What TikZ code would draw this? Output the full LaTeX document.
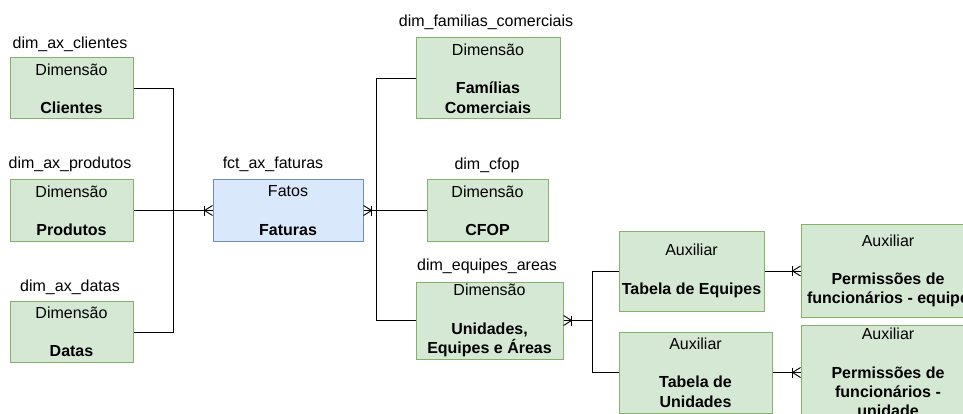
\documentclass[tikz,border=0pt]{standalone}
\usepackage{fontspec}
\setmainfont{Liberation Sans}
\definecolor{dimfill}{HTML}{D5E8D4}
\definecolor{dimline}{HTML}{82B366}
\definecolor{factfill}{HTML}{DAE8FC}
\definecolor{factline}{HTML}{6C8EBF}
\begin{document}
\begin{tikzpicture}[x=1pt,y=-1pt,
  every node/.style={font=\fontsize{16}{19.2}\selectfont},
  entity/.style={draw, line width=1pt, align=center, inner sep=0pt},
  dimbox/.style={entity, fill=dimfill, draw=dimline},
  factbox/.style={entity, fill=factfill, draw=factline},
  tablename/.style={inner sep=0pt},
  link/.style={draw=black, line width=0.9pt},
  crow/.pic={
    \draw[line width=0.9pt] (0,-5) -- (-8,0) -- (0,5);
    \draw[line width=0.9pt] (-8,-5) -- (-8,5);
  }]
\useasboundingbox (0,0) rectangle (963,414);
\clip (0,0) rectangle (963,414);

% dimension tables on the left
\node[dimbox, minimum width=123pt, minimum height=61pt] (cli) at (71.5,88.5)
  {Dimensão\\[19.2pt]\textbf{Clientes}};
\node[dimbox, minimum width=123pt, minimum height=61pt] (pro) at (71.5,210.5)
  {Dimensão\\[19.2pt]\textbf{Produtos}};
\node[dimbox, minimum width=123pt, minimum height=61pt] (dat) at (71.5,332)
  {Dimensão\\[19.2pt]\textbf{Datas}};

% fact table
\node[factbox, minimum width=150pt, minimum height=61pt] (fat) at (288,210.5)
  {Fatos\\[19.2pt]\textbf{Faturas}};

% dimension tables on the right
\node[dimbox, minimum width=144pt, minimum height=81pt] (fam) at (488,78.5)
  {Dimensão\\[19.2pt]\textbf{Famílias}\\\textbf{Comerciais}};
\node[dimbox, minimum width=121pt, minimum height=61pt] (cfop) at (487.5,210.5)
  {Dimensão\\[19.2pt]\textbf{CFOP}};
\node[dimbox, minimum width=147pt, minimum height=77pt] (eqa) at (489.5,320.5)
  {Dimensão\\[19.2pt]\textbf{Unidades,}\\\textbf{Equipes e Áreas}};

% auxiliary tables
\node[dimbox, minimum width=145pt, minimum height=80pt] (teq) at (691.5,271)
  {Auxiliar\\[19.2pt]\textbf{Tabela de Equipes}};
\node[dimbox, minimum width=153pt, minimum height=81pt] (tun) at (695.5,372.5)
  {Auxiliar\\[19.2pt]\textbf{Tabela de}\\\textbf{Unidades}};
\node[dimbox, minimum width=174pt, minimum height=93pt] (peq) at (888,271)
  {Auxiliar\\[19.2pt]\textbf{Permissões de}\\\textbf{funcionários - equipe}};
\node[dimbox, minimum width=174pt, minimum height=95pt] (pun) at (888,372.5)
  {Auxiliar\\[19.2pt]\textbf{Permissões de}\\\textbf{funcionários -}\\\textbf{unidade}};

% table names
\node[tablename] (ncli) at (70,44) {dim\_ax\_clientes};
\node[tablename] (npro) at (70,164) {dim\_ax\_produtos};
\node[tablename] (ndat) at (70,287) {dim\_ax\_datas};
\node[tablename] (nfat) at (273,164) {fct\_ax\_faturas};
\node[tablename] (nfam) at (486,22) {dim\_familias\_comerciais};
\node[tablename] (ncfop) at (487,165) {dim\_cfop};
\node[tablename] (neqa) at (487,266) {dim\_equipes\_areas};

% relationships
\draw[link] (cli.east) -- ++(40,0) |- (fat.west);
\draw[link] (pro.east) -- (fat.west);
\draw[link] (dat.east) -- ++(40,0) |- (fat.west);
\draw[link] (fat.east) -- ++(13,0) |- (fam.west);
\draw[link] (fat.east) -- (cfop.west);
\draw[link] (fat.east) -- ++(13,0) |- (eqa.west);
\draw[link] (eqa.east) -- ++(29,0) |- (teq.west);
\draw[link] (eqa.east) -- ++(29,0) |- (tun.west);
\draw[link] (teq.east) -- (peq.west);
\draw[link] (tun.east) -- (pun.west);

% one-or-many markers
\pic at (fat.west) {crow};
\pic[xscale=-1] at (fat.east) {crow};
\pic[xscale=-1] at (eqa.east) {crow};
\pic at (peq.west) {crow};
\pic at (pun.west) {crow};
\end{tikzpicture}
\end{document}
